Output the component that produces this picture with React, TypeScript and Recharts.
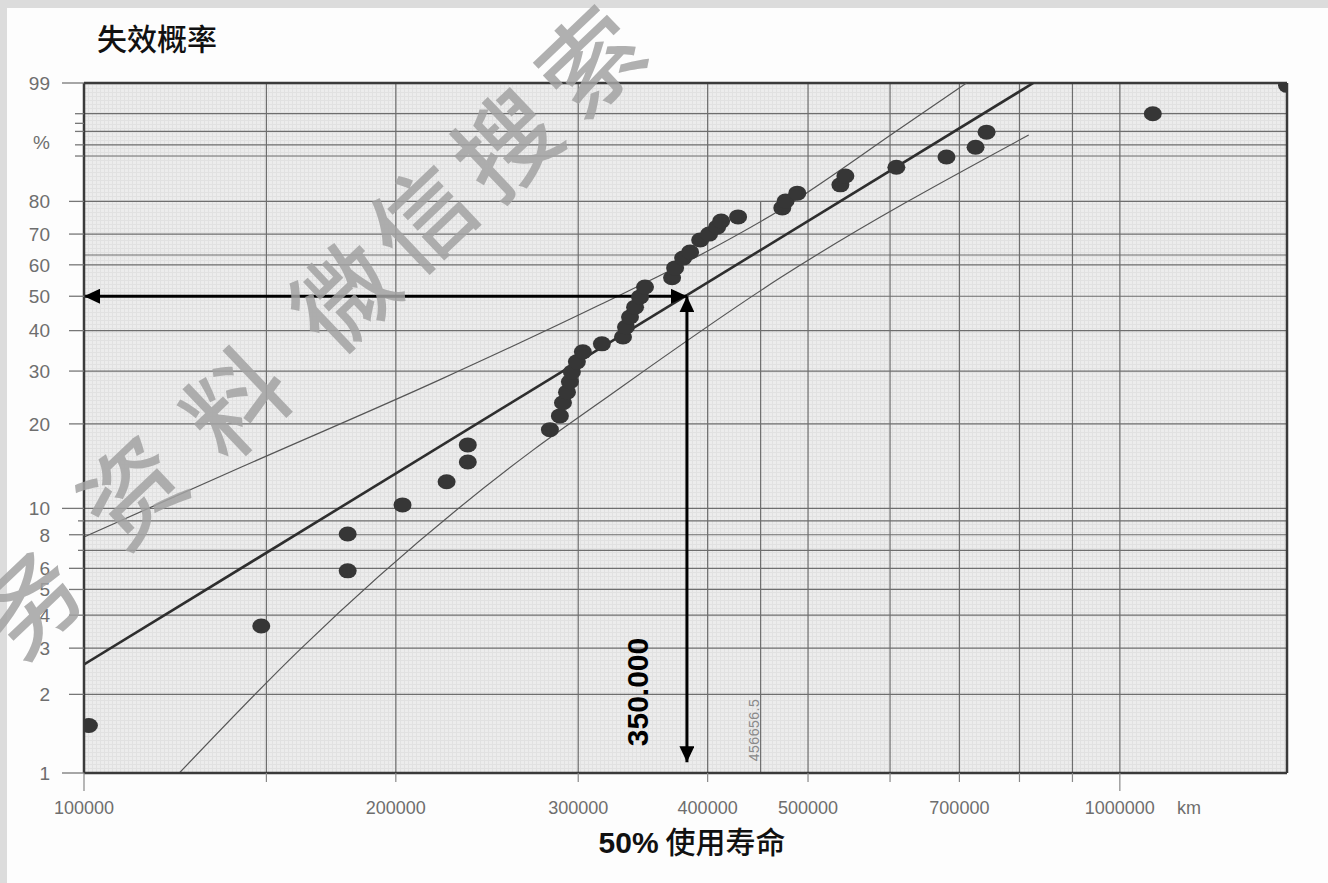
import { ComposedChart, Scatter, Line, XAxis, YAxis, CartesianGrid, ReferenceLine } from "recharts";

// Weibull probability paper: x = mileage (log), y = ln(-ln(1 - F))
const weib = (pct: number) => Math.log(-Math.log(1 - pct / 100));

// observed failures (km, cumulative failure %)
const failureKm = [
  101100, 148300, 179700, 179700, 203000, 223900, 234700, 234700, 281700, 288000,
  290000, 292600, 294500, 295800, 299100, 303100, 316200, 331400, 333600, 336600,
  340400, 344200, 348000, 369600, 372100, 378800, 384700, 393400, 401300, 408500,
  412200, 428000, 472200, 475700, 488200, 537300, 543300, 608500, 680200, 725600,
  743600, 1076000, 1450000,
];
const failurePct = [
  1.52, 3.64, 5.87, 8.05, 10.3, 12.5, 14.7, 16.9, 19.1, 21.3,
  23.6, 25.6, 27.7, 29.8, 32.1, 34.5, 36.5, 38.3, 41.0, 43.8,
  46.7, 49.8, 52.9, 55.8, 59.0, 62.2, 64.2, 68.1, 70.0, 72.2,
  74.1, 75.4, 78.1, 80.1, 82.3, 84.5, 86.7, 88.7, 90.8, 92.6,
  94.9, 97.0, 98.9,
];

// fitted Weibull line and confidence band
const fitKm = [100000, 825000];
const fitPct = [2.6, 99];
const upperKm = [100000, 141200, 220400, 314800, 393400, 470000, 614000, 711200];
const upperPct = [7.85, 14.0, 28.1, 47.4, 63.2, 77.5, 95.4, 99];
const lowerKm = [123600, 161400, 271300, 314800, 470000, 816600];
const lowerPct = [1, 2.95, 16.2, 23.7, 55.8, 94.5];

// B50 read-off
const medianKm = 382000;
const medianPct = 50;

// axes
const kmMin = 100000;
const kmMax = 1450000;
const kmTicks = [100000, 150000, 200000, 300000, 400000, 500000, 600000, 700000, 800000, 900000, 1000000];
const kmLabels = [100000, 200000, 300000, 400000, 500000, 700000, 1000000];
const kmGrid = [150000, 200000, 300000, 400000, 500000, 600000, 700000, 800000, 900000, 1000000];

const pctTicks = [1, 2, 3, 4, 5, 6, 7, 8, 9, 10, 20, 30, 40, 50, 60, 70, 80, 91, 93, 95, 96, 97, 99];
const pctLabels: Record<number, string> = {
  1: "1", 2: "2", 3: "3", 4: "4", 5: "5", 6: "6", 8: "8", 10: "10", 20: "20", 30: "30",
  40: "40", 50: "50", 60: "60", 70: "70", 80: "80", 93: "%", 99: "99",
};
const pctGrid = [2, 3, 4, 5, 6, 7, 8, 9, 10, 20, 30, 40, 50, 60, 63.2, 70, 80, 91, 93, 95, 97];

const toPoints = (km: number[], pct: number[]) => km.map((k, i) => ({ km: k, w: weib(pct[i]) }));
const failures = toPoints(failureKm, failurePct);
const fitLine = toPoints(fitKm, fitPct);
const upperBand = toPoints(upperKm, upperPct);
const lowerBand = toPoints(lowerKm, lowerPct);

// diagonal watermark, one glyph per position
const watermark = ["务", "资", "料", "微", "信", "搜", "索"];
const wmX = [25, 128, 232, 340, 418, 502, 586];
const wmY = [598, 487, 398, 292, 214, 140, 57];
const wmAngle = -43.5;

const axisFont = "'Liberation Sans', Arial, sans-serif";
const cjkFont = "'Noto Sans CJK SC', sans-serif";

function PctTick(props: any) {
  const { x, y, payload } = props;
  let p = pctTicks[0];
  for (const t of pctTicks) {
    if (Math.abs(weib(t) - payload.value) < Math.abs(weib(p) - payload.value)) p = t;
  }
  const label = pctLabels[p];
  const len = p === 1 || p === 10 || p === 99 ? 22 : label && p <= 80 ? 15 : p > 80 ? 9 : 6;
  return (
    <g>
      <line x1={x - len} x2={x} y1={y} y2={y} stroke="#777" strokeWidth={1.3} />
      {label && (
        <text x={x - 34} y={p === 93 ? y - 3 : y} dy="0.36em" textAnchor="end" fontSize={19}
          fontFamily={axisFont} fill="#6e6e6e">
          {label}
        </text>
      )}
    </g>
  );
}

function KmTick(props: any) {
  const { x, y, payload } = props;
  const v = payload.value;
  const long = v === 100000 || v === 1000000;
  return (
    <g>
      <line x1={x} x2={x} y1={y} y2={y + (long ? 18 : 9)} stroke="#888" strokeWidth={1.2} />
      {kmLabels.includes(v) && (
        <text x={x} y={y + 41} textAnchor="middle" fontSize={18} fontFamily={axisFont} fill="#6e6e6e">
          {v}
        </text>
      )}
    </g>
  );
}

const FailureDot = (p: any) => <ellipse cx={p.cx} cy={p.cy} rx={9} ry={7.5} fill="#363636" />;

const Arrow = (p: any) => (
  <line x1={p.x1} y1={p.y1} x2={p.x2} y2={p.y2} stroke="#000" strokeWidth={3}
    markerStart="url(#arrowHead)" markerEnd="url(#arrowHead)" />
);

export default function App() {
  return (
    <div style={{ position: "absolute", left: 0, top: 0, width: 1328, height: 883, background: "#dcdcdc" }}>
      <div style={{ position: "absolute", left: 7, top: 8, right: 0, bottom: 0, background: "#fdfdfd" }} />
      <svg width={0} height={0} style={{ position: "absolute" }}>
        <defs>
          <pattern id="fineGrid" width={4} height={4} patternUnits="userSpaceOnUse">
            <rect width={4} height={4} fill="#ececec" />
            <path d="M0,0.5 H4 M0.5,0 V4" stroke="#e1e1e1" strokeWidth={1} />
          </pattern>
          <marker id="arrowHead" viewBox="0 0 16 15" refX={16} refY={7.5} markerWidth={16} markerHeight={15}
            markerUnits="userSpaceOnUse" orient="auto-start-reverse">
            <path d="M0,0 L16,7.5 L0,15 z" fill="#000" />
          </marker>
        </defs>
      </svg>
      <div style={{ position: "absolute", left: 0, top: 0 }}>
        <ComposedChart width={1328} height={883} margin={{ top: 83, right: 41, bottom: 70, left: 0 }}>
          <CartesianGrid fill="url(#fineGrid)" fillOpacity={1} stroke="#6e6e6e" strokeWidth={1.2}
            horizontalValues={pctGrid.map(weib)} verticalValues={kmGrid} />
          <XAxis dataKey="km" type="number" scale="log" domain={[kmMin, kmMax]} ticks={kmTicks}
            interval={0} allowDataOverflow tickSize={0} tickMargin={0} tick={KmTick} height={40}
            axisLine={{ stroke: "#3a3a3a", strokeWidth: 2.5 }} />
          <YAxis dataKey="w" type="number" domain={[weib(1), weib(99)]} ticks={pctTicks.map(weib)}
            interval={0} allowDataOverflow tickSize={0} tickMargin={0} tick={PctTick} width={84}
            axisLine={{ stroke: "#3a3a3a", strokeWidth: 2.5 }} />
          <ReferenceLine y={weib(99)} stroke="#3a3a3a" strokeWidth={2.5} />
          <ReferenceLine x={kmMax} stroke="#3a3a3a" strokeWidth={2.5} />
          <ReferenceLine segment={[{ x: 450000, y: weib(1) }, { x: 450000, y: weib(80) }]}
            stroke="#6e6e6e" strokeWidth={1.2} />
          <Line data={upperBand} dataKey="w" type="monotone" stroke="#555" strokeWidth={1.2}
            dot={false} isAnimationActive={false} />
          <Line data={lowerBand} dataKey="w" type="monotone" stroke="#555" strokeWidth={1.2}
            dot={false} isAnimationActive={false} />
          <Line data={fitLine} dataKey="w" type="linear" stroke="#2e2e2e" strokeWidth={2.6}
            dot={false} isAnimationActive={false} />
          <Scatter data={failures} dataKey="w" shape={FailureDot} isAnimationActive={false} />
          <ReferenceLine segment={[{ x: kmMin, y: weib(medianPct) }, { x: medianKm, y: weib(medianPct) }]}
            shape={Arrow} />
          <ReferenceLine segment={[{ x: medianKm, y: weib(medianPct) }, { x: medianKm, y: weib(1.1) }]}
            shape={Arrow} />
        </ComposedChart>
      </div>
      <svg width={1328} height={883} style={{ position: "absolute", left: 0, top: 0, pointerEvents: "none" }}>
        <text x={97} y={50} fontSize={30} fontFamily={cjkFont} fontWeight={500} fill="#111">失效概率</text>
        <text x={692} y={853} textAnchor="middle" fontSize={30} fill="#111">
          <tspan fontFamily={axisFont} fontWeight="bold">50%</tspan>
          <tspan fontFamily={cjkFont} fontWeight={500}> 使用寿命</tspan>
        </text>
        <text x={1177} y={814} fontSize={18} fontFamily={axisFont} fill="#6e6e6e">km</text>
        <text x={637} y={692} transform="rotate(-90 637 692)" textAnchor="middle" dominantBaseline="central"
          fontSize={30} fontWeight="bold" fontFamily={axisFont} fill="#000">350.000</text>
        <text x={754} y={730} transform="rotate(-90 754 730)" textAnchor="middle" dominantBaseline="central"
          fontSize={14} fontFamily={axisFont} fill="#8a8a8a" letterSpacing={0.5}>456656.5</text>
        {watermark.map((ch, i) => (
          <text key={i} x={wmX[i]} y={wmY[i]} transform={`rotate(${wmAngle} ${wmX[i]} ${wmY[i]})`}
            textAnchor="middle" dominantBaseline="central" fontSize={100} fontFamily={cjkFont}
            fontWeight={500} fill="#a2a2a2" fillOpacity={0.85}>
            {ch}
          </text>
        ))}
      </svg>
    </div>
  );
}
